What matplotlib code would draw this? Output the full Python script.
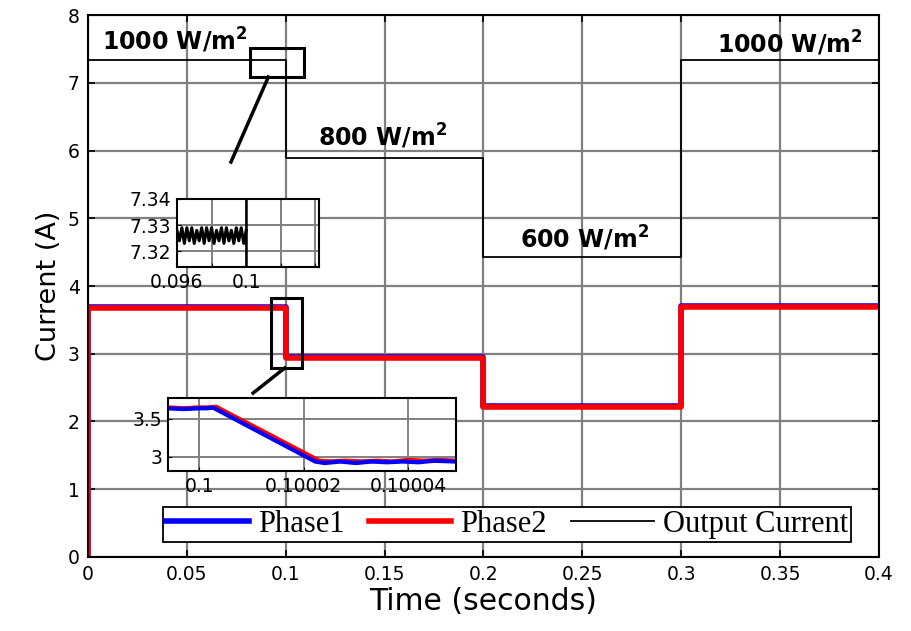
import numpy as np
import matplotlib
matplotlib.use("Agg")
import matplotlib.pyplot as plt

# ---------------- data ----------------
step_times = [0.0, 0.1, 0.2, 0.3, 0.4]
output_levels = [7.33, 5.89, 4.43, 7.33]
phase1_levels = [3.69, 2.955, 2.225, 3.70]
phase2_levels = [3.675, 2.94, 2.21, 3.685]
irradiance_labels = ["1000 W/m$^\\mathbf{2}$", "800 W/m$^\\mathbf{2}$",
                     "600 W/m$^\\mathbf{2}$", "1000 W/m$^\\mathbf{2}$"]

# zoom 1: output current ripple 0.096 .. 0.1
ripple_values = [7.328, 7.324, 7.329, 7.323, 7.329, 7.324, 7.329, 7.323, 7.328,
                 7.324, 7.329, 7.323, 7.329, 7.324, 7.329, 7.323, 7.328, 7.324,
                 7.329, 7.323, 7.329, 7.324, 7.328, 7.323, 7.329, 7.324, 7.329,
                 7.323, 7.328]

# zoom 2: phase currents around t = 0.1
z2_t1 = [0.099994, 0.099997, 0.1, 0.1000015, 0.1000026, 0.1000222, 0.100024,
         0.100027, 0.10003, 0.100033, 0.100036, 0.100039, 0.100042, 0.100045,
         0.100049]
z2_p1 = [3.64, 3.63, 3.64, 3.64, 3.65, 2.94, 2.92, 2.94, 2.92, 2.94, 2.93,
         2.94, 2.93, 2.95, 2.94]
z2_t2 = [0.099994, 0.099997, 0.1, 0.1000015, 0.1000032, 0.1000230, 0.100025,
         0.100028, 0.100031, 0.100034, 0.100037, 0.10004, 0.100043, 0.100046,
         0.100049]
z2_p2 = [3.65, 3.64, 3.65, 3.65, 3.66, 2.95, 2.94, 2.95, 2.94, 2.95, 2.94,
         2.96, 2.95, 2.96, 2.95]

plt.rcParams['font.family'] = ['DejaVu Sans']

fig = plt.figure(figsize=(9.12, 6.31), dpi=100)
ax = fig.add_axes([0.0965, 0.1173, 0.8673, 0.8589])

def steps(levels):
    t, v = [0.0], [0.0]
    for i, lv in enumerate(levels):
        t += [step_times[i], step_times[i + 1]]
        v += [lv, lv]
    return t, v

t1, v1 = steps(phase1_levels)
t2, v2 = steps(phase2_levels)
to, vo = steps(output_levels)
l1, = ax.plot(t1, v1, color='#0000ff', lw=4.0, label='Phase1')
l2, = ax.plot(t2, v2, color='#ff0000', lw=4.0, label='Phase2')
lo, = ax.plot(to, vo, color='black', lw=1.3, label='Output Current')

ax.set_xlim(0, 0.4)
ax.set_ylim(0, 8)
ax.set_xticks([0, 0.05, 0.1, 0.15, 0.2, 0.25, 0.3, 0.35, 0.4])
ax.set_xticklabels(['0', '0.05', '0.1', '0.15', '0.2', '0.25', '0.3', '0.35', '0.4'])
ax.set_yticks(range(0, 9))
ax.tick_params(direction='in', length=5, width=1.2, top=True, right=True,
               labelsize=13.5, pad=6)
ax.grid(True, color='#808080', lw=1.6)
ax.set_axisbelow(True)
for s in ax.spines.values():
    s.set_linewidth(1.5)
ax.set_xlabel('Time (seconds)', fontsize=21.5, labelpad=2)
ax.set_ylabel('Current (A)', fontsize=19.5, labelpad=4)

# irradiance annotations
ann_x = [0.0437, 0.149, 0.251, 0.355]
ann_y = [7.48, 6.06, 4.56, 7.44]
for x, y, s in zip(ann_x, ann_y, irradiance_labels):
    ax.text(x, y, s, fontsize=17, fontweight='bold', ha='center', va='baseline')

# zoom boxes and connector lines on main axes
ax.add_patch(plt.Rectangle((0.0819, 7.085), 0.0273, 0.425, fill=False, lw=2.2, ec='black', zorder=5))
ax.plot([0.0912, 0.0723], [7.085, 5.83], color='black', lw=2.5, zorder=5)
ax.add_patch(plt.Rectangle((0.0925, 2.79), 0.0157, 1.03, fill=False, lw=2.2, ec='black', zorder=5))
ax.plot([0.0995, 0.0835], [2.79, 2.42], color='black', lw=2.5, zorder=5)

# legend
leg = ax.legend(handles=[l1, l2, lo], loc='lower center', ncol=3,
                bbox_to_anchor=(0.530, 0.028), frameon=True, fancybox=False,
                edgecolor='black', framealpha=1, borderpad=0.1,
                handlelength=2.7, columnspacing=0.8, handletextpad=0.3,
                borderaxespad=0.0,
                prop={'family': 'Liberation Serif', 'size': 22})
leg.get_frame().set_linewidth(1.3)

# inset 1
a1 = fig.add_axes([0.194, 0.5769, 0.1557, 0.1078])
rt = np.linspace(0.096, 0.1, len(ripple_values))
a1.plot(rt, ripple_values, color='black', lw=2.2)
a1.plot([0.1, 0.1], [7.314, 7.34], color='black', lw=1.8)
a1.set_xlim(0.096, 0.1042)
a1.set_ylim(7.314, 7.34)
a1.set_xticks([0.096, 0.098, 0.1, 0.102, 0.104])
a1.set_xticklabels(['0.096', '', '0.1', '', ''])
a1.set_yticks([7.32, 7.33, 7.34])
a1.set_yticklabels(['7.32', '7.33', '7.34'])
a1.tick_params(direction='in', length=3, labelsize=13.5, pad=4)
a1.grid(True, color='#808080', lw=1.4)
for s in a1.spines.values():
    s.set_linewidth(1.5)

# inset 2
a2 = fig.add_axes([0.1842, 0.2536, 0.3158, 0.1157])
a2.plot(z2_t2, z2_p2, color='#ff0000', lw=3.2)
a2.plot(z2_t1, z2_p1, color='#0000ff', lw=3.0)
a2.set_xlim(0.099994, 0.1000492)
a2.set_ylim(2.816, 3.776)
a2.set_xticks([0.1, 0.10002, 0.10004])
a2.set_xticklabels(['0.1', '0.10002', '0.10004'])
a2.set_yticks([3, 3.5])
a2.set_yticklabels(['3', '3.5'])
a2.tick_params(direction='in', length=3, labelsize=13.5, pad=4)
a2.grid(True, color='#808080', lw=1.4)
for s in a2.spines.values():
    s.set_linewidth(1.5)

fig.savefig('out.png', dpi=100)
